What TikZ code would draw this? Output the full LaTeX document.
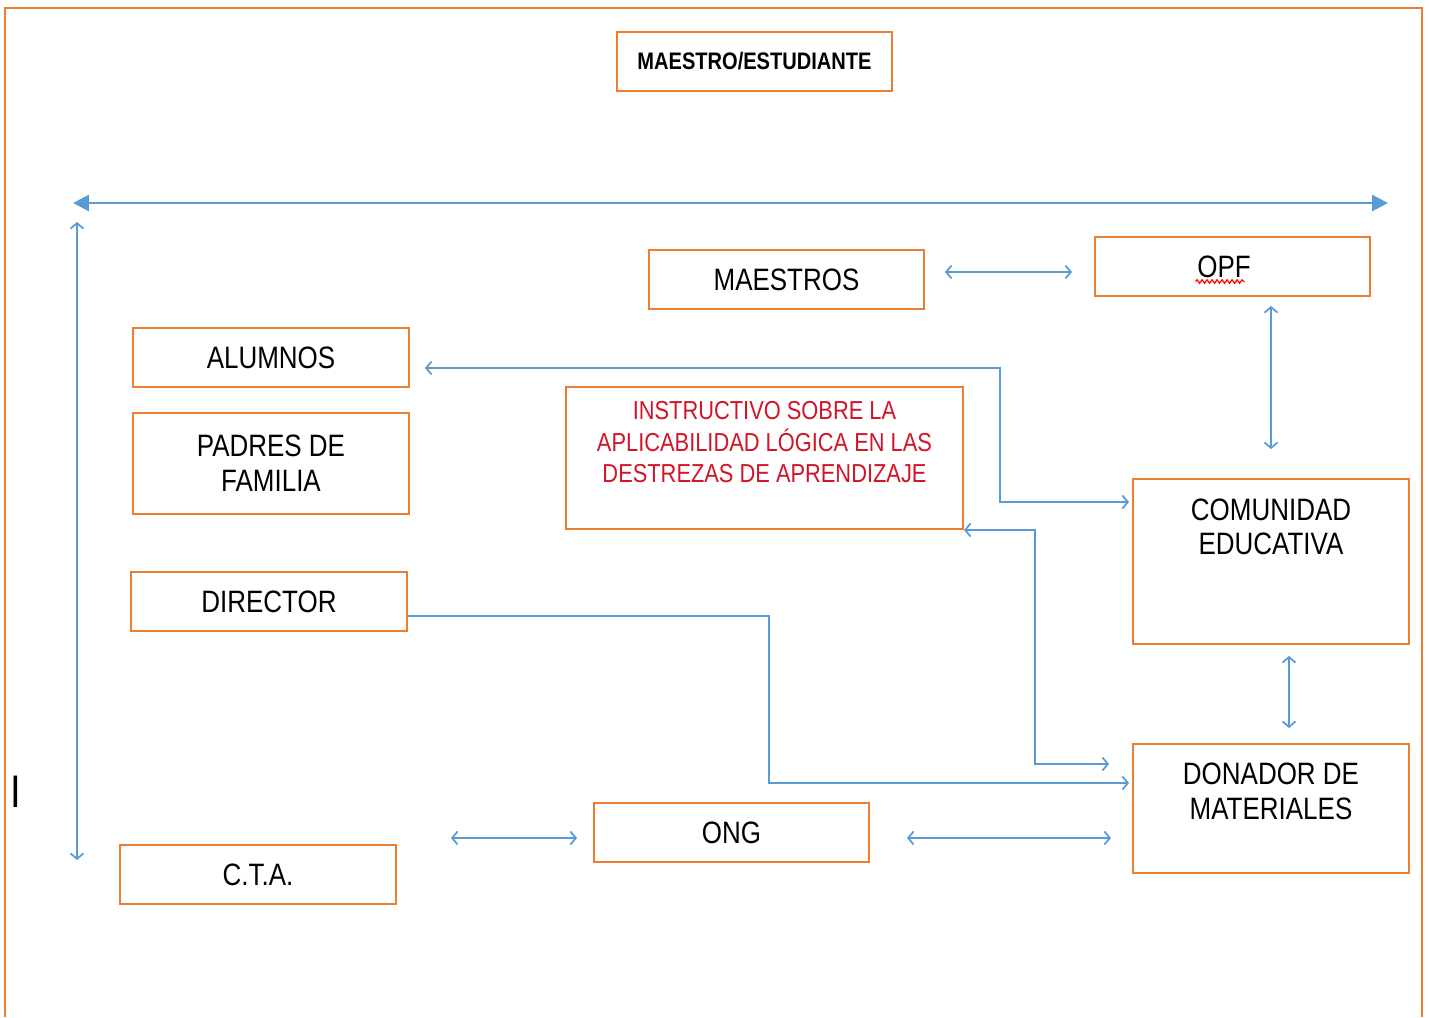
\documentclass[tikz,border=0pt]{standalone}
\usepackage{fontspec}
\setmainfont[FakeStretch=0.84]{Liberation Sans}
\usepackage{xcolor}
\definecolor{ColBox}{RGB}{237,125,49}
\definecolor{ColLink}{RGB}{91,155,213}
\definecolor{ColRed}{RGB}{210,20,40}
\usepackage{tikz}
\usetikzlibrary{arrows.meta}
\usetikzlibrary{decorations.pathmorphing}
\tikzstyle{Box}=[draw=ColBox,line width=1.1pt,inner sep=0pt,
minimum width=5.5cm,minimum height=1.18cm,align=center,
font=\fontsize{17.6}{19.8}\selectfont]
\tikzstyle{Link}=[draw=ColLink,line width=1pt,
>={Straight Barb[length=.11cm,width=.26cm]}]
\tikzstyle{Axis}=[draw=ColLink,line width=1.7pt,
{Triangle[length=.32cm,width=.32cm]}-{Triangle[length=.32cm,width=.32cm]}]
\tikzstyle{Frame}=[draw=ColBox,line width=1.1pt]
\tikzstyle{Wavy}=[draw=red,line width=.7pt,decorate,
decoration={snake,amplitude=.035cm,segment length=.1cm}]

\begin{document}
\begin{tikzpicture}[x=0.02cm,y=-0.02cm]
        \useasboundingbox(0,0)rectangle(1429,1017);
        \draw[Frame](5,1017)--(5,8)--(1422,8)--(1422,1017);
        \node[Box,font=\fontsize{13.6}{15}\selectfont\bfseries](title)at(754.5,61.5){MAESTRO/ESTUDIANTE};
        \node[Box](maestros)at(786.5,279.5){MAESTROS};
        \node[Box](opf)at(1232.5,266.5){OPF\hspace*{.34cm}};
        \node[Box,minimum width=5.52cm](alum)at(271,357.5){ALUMNOS};
        \node[Box,minimum width=5.52cm,minimum height=2.02cm](padres)at(271,463.5){PADRES DE\\FAMILIA};
        \node[Box,minimum width=7.94cm,minimum height=2.84cm,text=ColRed,
            font=\fontsize{14.8}{17.9}\selectfont](instr)at(764.5,458)
            {INSTRUCTIVO SOBRE LA\\APLICABILIDAD LÓGICA EN LAS\\DESTREZAS DE APRENDIZAJE\\~};
        \node[Box,minimum width=5.52cm,minimum height=3.3cm](com)at(1271,561.5){COMUNIDAD\\EDUCATIVA\\~\\~};
        \node[Box,minimum width=5.52cm](dir)at(269,601.5){DIRECTOR};
        \node[Box,minimum width=5.52cm,minimum height=2.58cm](don)at(1271,808.5){DONADOR DE\\MATERIALES\\~};
        \node[Box](ong)at(731.5,832.5){ONG};
        \node[Box,minimum width=5.52cm](cta)at(258,874.5){C.T.A.};
        \node[font=\fontsize{26}{28}\selectfont,inner sep=0pt](cursor)at(16,792){I};
        \coordinate(L)at(73,203);
        \coordinate(R)at(1388,203);
        \coordinate(T)at(77,222);
        \coordinate(B)at(77,860);
        \draw[Axis](L)--(R);
        \draw[Link,<->](T)--(B);
        \draw[Wavy]([xshift=-.74cm,yshift=-.3cm]opf.center)--++(49,0);
        \draw[Link,<->]([xshift=.4cm,yshift=.15cm]maestros.east)--([xshift=-.44cm,yshift=-.11cm]opf.west);
        \draw[Link,<->]([yshift=-.18cm]opf.south -| com.north)--([yshift=.58cm]com.north);
        \draw[Link,<->]([xshift=.3cm,yshift=-.21cm]alum.east)-|++(575,134)--([xshift=-.06cm,yshift=1.19cm]com.west);
        \draw[Link,<->](instr.south east)--++(71,0)|-([xshift=-.46cm,yshift=.89cm]don.west);
        \draw[Link,->]([yshift=-.29cm]dir.east)--++(361,0)|-([xshift=-.06cm,yshift=.51cm]don.west);
        \draw[Link,<->]([xshift=.36cm,yshift=-.22cm]com.south)--([xshift=.36cm,yshift=.3cm]don.north);
        \draw[Link,<->]([xshift=1.08cm,yshift=.73cm]cta.east)--([xshift=-.32cm,yshift=-.11cm]ong.west);
        \draw[Link,<->]([xshift=.74cm,yshift=-.11cm]ong.east)--([xshift=-.42cm,yshift=-.59cm]don.west);
    \end{tikzpicture}
\end{document}
